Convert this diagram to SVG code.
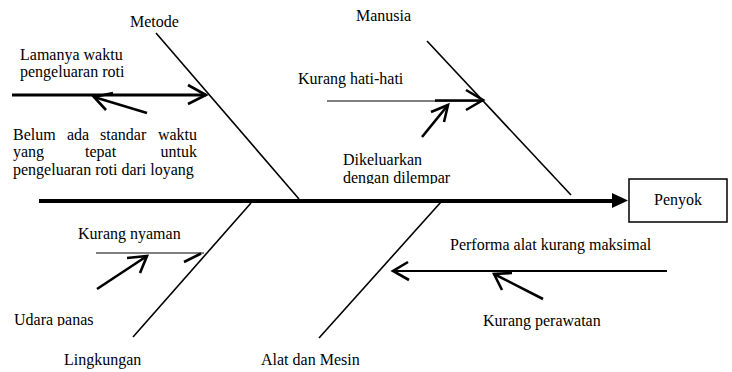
<svg xmlns="http://www.w3.org/2000/svg" width="732" height="372" viewBox="0 0 732 372">
<style>
.t{font-size:16px;fill:#000}
.bone{stroke:#000;stroke-width:1.6;fill:none}
.thk{stroke:#000;stroke-width:3;fill:none;stroke-linecap:butt}
.sub{stroke:#000;stroke-width:2.6;fill:none}
.thin{stroke:#000;stroke-width:1;fill:none}
</style>
<defs>
<clipPath id="c1"><rect x="100" y="0" width="120" height="28"/></clipPath>
<clipPath id="c2"><rect x="300" y="150" width="200" height="34"/></clipPath>
<clipPath id="c3"><rect x="0" y="300" width="150" height="26"/></clipPath>
</defs>
<rect width="732" height="372" fill="#fff"/>
<g id="connectors">
<line x1="39" y1="201" x2="614" y2="201" stroke="#000" stroke-width="4"/>
<polygon points="612,193 628,200.5 612,208" fill="#000"/>
<line class="bone" x1="156" y1="33" x2="299" y2="199"/>
<line class="bone" x1="427" y1="41" x2="571" y2="195"/>
<line class="bone" x1="251" y1="203" x2="133" y2="337"/>
<line class="bone" x1="441" y1="202" x2="319" y2="338"/>
<line class="thk" x1="12" y1="95" x2="206" y2="95"/>
<polyline class="sub" points="188,85 206,95 188,104"/>
<line class="sub" x1="147" y1="113" x2="94" y2="97"/>
<polyline class="sub" points="113,93 94,97 106,110"/>
<line class="thin" x1="327" y1="101" x2="483" y2="101"/>
<line class="sub" x1="435" y1="100.5" x2="483" y2="100.5"/>
<polyline class="sub" points="466,90 483,100 466,110"/>
<line class="sub" x1="422" y1="137" x2="448" y2="105"/>
<polyline class="sub" points="431,112 448,105 444,122"/>
<line class="thin" x1="96" y1="253" x2="204" y2="253" stroke="#333"/>
<line class="sub" x1="184" y1="262" x2="201" y2="253.5"/>
<line class="sub" x1="97" y1="289" x2="147" y2="256"/>
<polyline class="sub" points="127,258 147,256 140,273"/>
<line stroke="#000" stroke-width="2.2" x1="667" y1="271" x2="393" y2="271"/>
<polyline class="sub" points="408,262 393,271 409,280"/>
<line class="sub" x1="543" y1="299" x2="494" y2="274"/>
<polyline class="sub" points="512,273 494,274 502,290"/>
</g>
<g font-family="Liberation Serif, Times New Roman, serif">
<g id="effect">
<rect x="629" y="179" width="98" height="43" fill="#fff" stroke="#000" stroke-width="1.5"/>
<text class="t" x="678" y="205" text-anchor="middle">Penyok</text>
</g>
<g id="metode">
<text class="t" x="130" y="27" clip-path="url(#c1)">Metode</text>
</g>
<g id="lamanya">
<text class="t" x="20" y="60">Lamanya waktu</text>
<text class="t" x="20" y="77">pengeluaran roti</text>
</g>
<g id="belum">
<text class="t" x="13" y="140">Belum</text>
<text class="t" x="67" y="140">ada</text>
<text class="t" x="100" y="140">standar</text>
<text class="t" x="197" y="140" text-anchor="end">waktu</text>
<text class="t" x="13" y="157">yang</text>
<text class="t" x="85" y="157">tepat</text>
<text class="t" x="197" y="157" text-anchor="end">untuk</text>
<text class="t" x="13" y="175">pengeluaran roti dari loyang</text>
</g>
<g id="manusia">
<text class="t" x="356" y="21">Manusia</text>
</g>
<g id="kurang-hati">
<text class="t" x="298" y="84">Kurang hati-hati</text>
</g>
<g id="dikeluarkan">
<text class="t" x="343" y="165" clip-path="url(#c2)">Dikeluarkan</text>
<text class="t" x="343" y="183" clip-path="url(#c2)">dengan dilempar</text>
</g>
<g id="kurang-nyaman">
<text class="t" x="78" y="239">Kurang nyaman</text>
</g>
<g id="udara">
<text class="t" x="14" y="325" clip-path="url(#c3)">Udara panas</text>
</g>
<g id="lingkungan">
<text class="t" x="64" y="365">Lingkungan</text>
</g>
<g id="alat">
<text class="t" x="261" y="365">Alat dan Mesin</text>
</g>
<g id="performa">
<text class="t" x="450" y="250">Performa alat kurang maksimal</text>
</g>
<g id="perawatan">
<text class="t" x="483" y="326">Kurang perawatan</text>
</g>
</g>
</svg>
